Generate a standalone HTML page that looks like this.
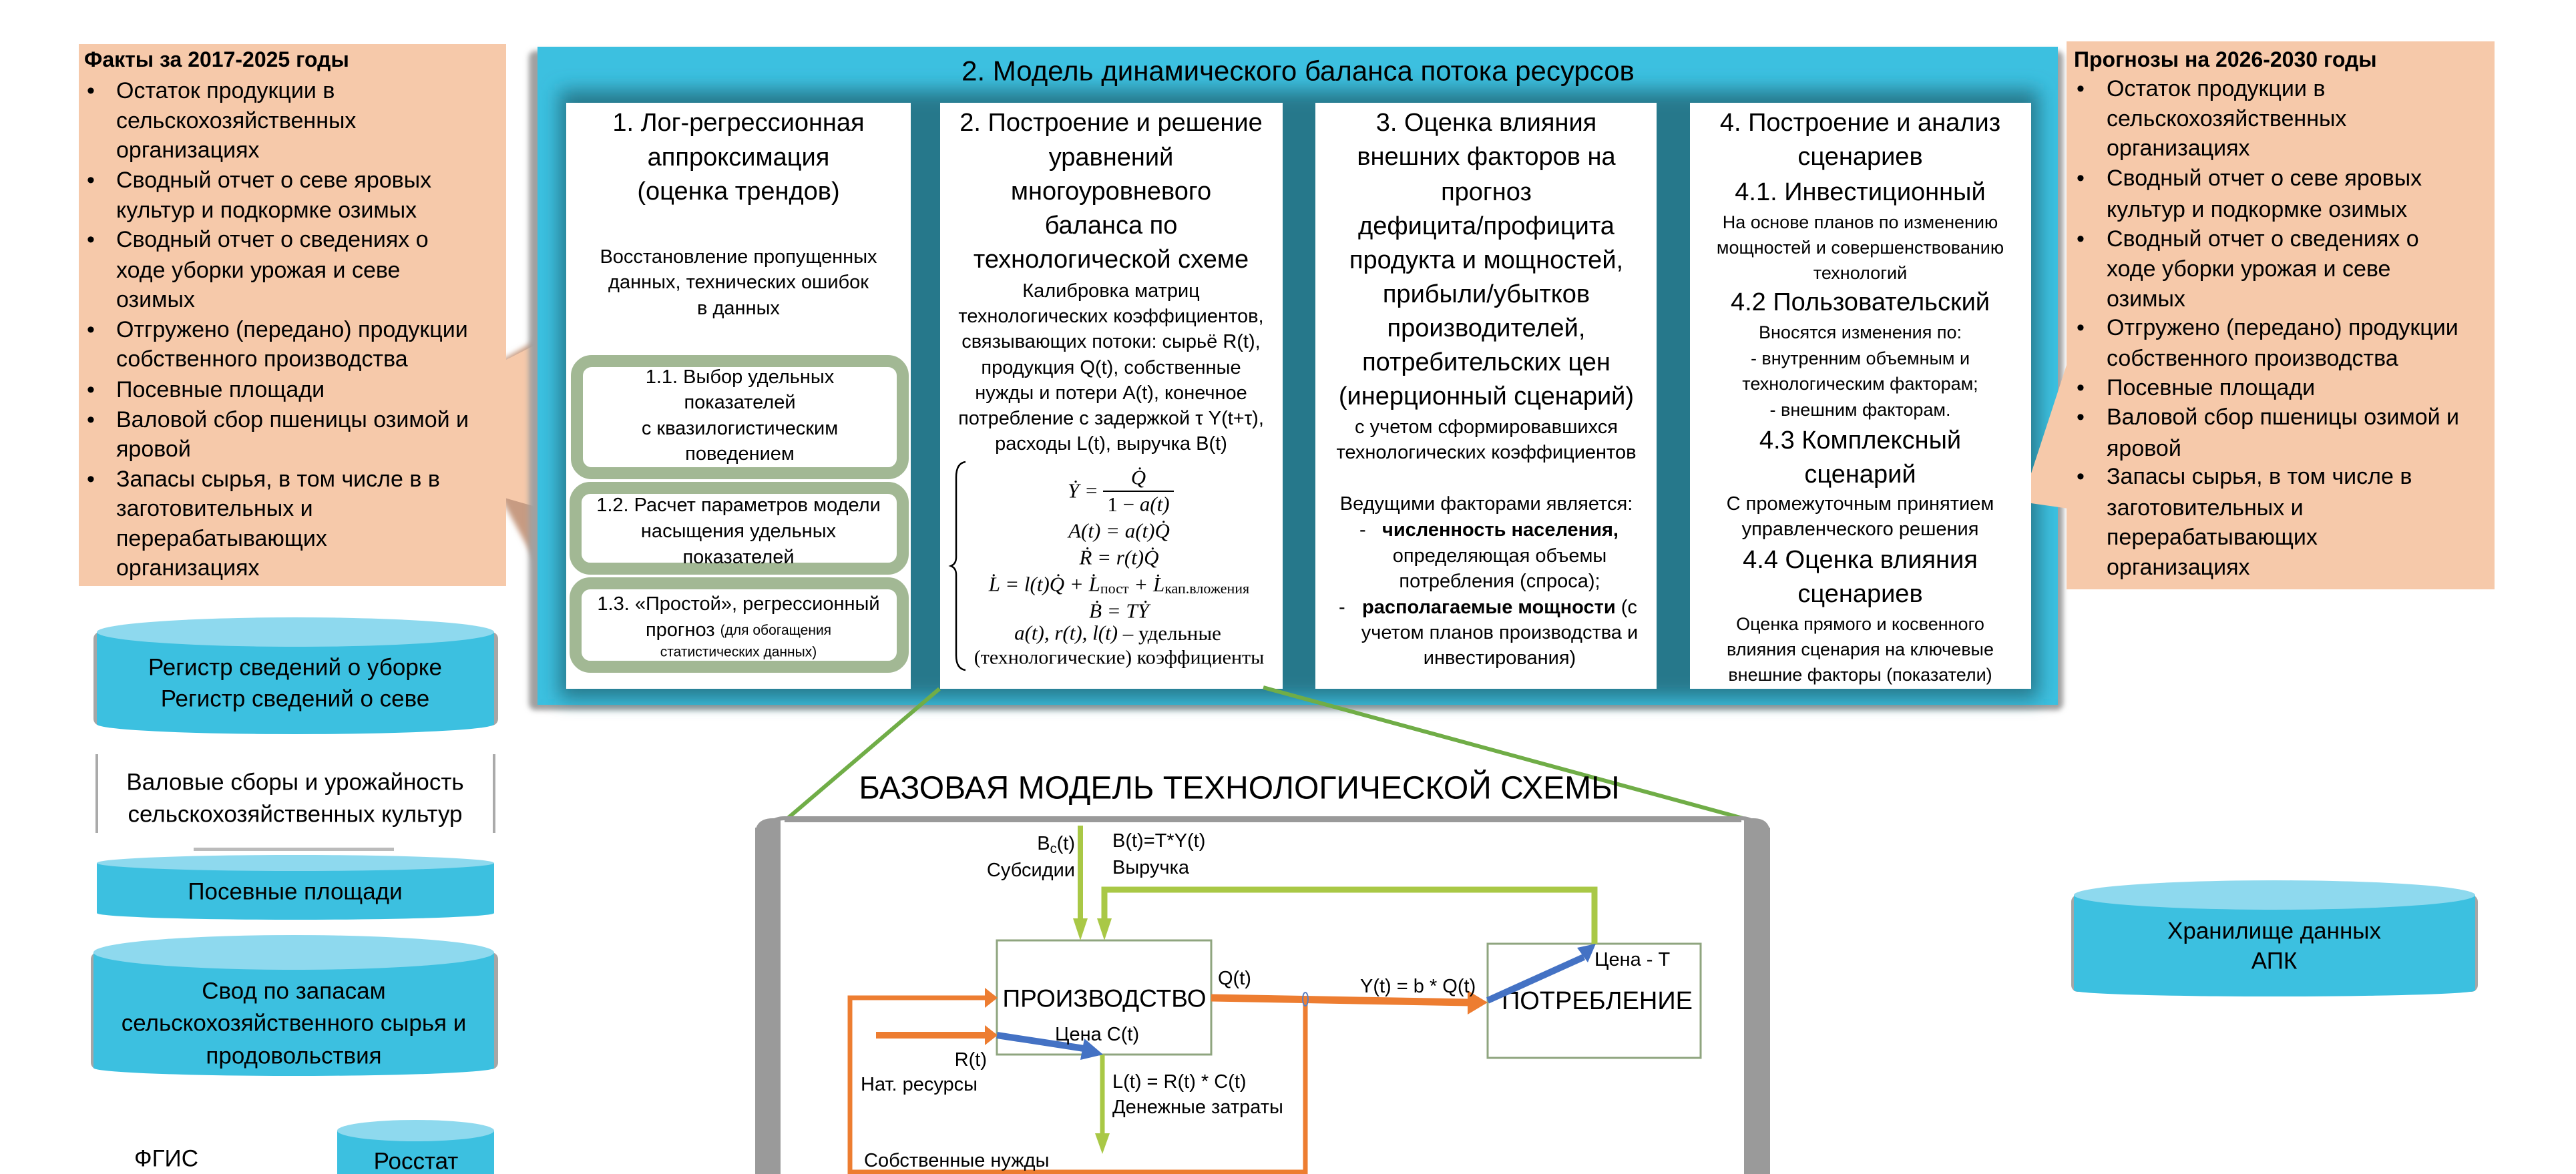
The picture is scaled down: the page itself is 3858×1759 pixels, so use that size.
<!DOCTYPE html>
<html><head><meta charset="utf-8">
<style>
html,body{margin:0;padding:0;background:#fff;}
svg{display:block;}
text{font-family:"Liberation Sans","DejaVu Sans",sans-serif;fill:#000;}
.c{text-anchor:middle;dominant-baseline:central;}
.l{dominant-baseline:central;}
.r{text-anchor:end;dominant-baseline:central;}
.pk{font-size:34px;}
.h{font-size:38px;}
.b{font-size:29px;}
.s{font-size:27px;}
.m{font-family:"Liberation Serif","DejaVu Serif",serif;font-size:31px;font-style:italic;}
.mn{font-family:"Liberation Serif","DejaVu Serif",serif;font-size:30px;}
.lb{font-size:29px;}
</style></head>
<body>
<svg width="3858" height="1759" viewBox="0 0 3858 1759" xmlns="http://www.w3.org/2000/svg">
<defs>
<filter id="bl" x="-5%" y="-5%" width="110%" height="110%"><feGaussianBlur stdDeviation="14"/></filter>
<filter id="bl2"><feGaussianBlur stdDeviation="4"/></filter>
</defs>

<!-- Left peach -->
<polygon points="750,540 812,505 812,860 750,746" fill="#c79b82" filter="url(#bl2)"/>
<polygon points="756,540 805,515 805,760 756,746" fill="#f6c9aa"/>
<rect x="118" y="66" width="640" height="812" fill="#f6c9aa"/>
<text x="126" y="89" class="l pk" style="font-weight:bold;font-size:32px">Факты за 2017-2025 годы</text>
<g class="pk">
<text x="130" y="136" class="l pk">•</text><text x="174" y="136" class="l pk">Остаток продукции  в</text>
<text x="174" y="181" class="l pk">сельскохозяйственных</text>
<text x="174" y="225" class="l pk">организациях</text>
<text x="130" y="270" class="l pk">•</text><text x="174" y="270" class="l pk">Сводный отчет о севе яровых</text>
<text x="174" y="315" class="l pk">культур и подкормке озимых</text>
<text x="130" y="359" class="l pk">•</text><text x="174" y="359" class="l pk">Сводный отчет о сведениях о</text>
<text x="174" y="405" class="l pk">ходе уборки урожая и севе</text>
<text x="174" y="449" class="l pk">озимых</text>
<text x="130" y="494" class="l pk">•</text><text x="174" y="494" class="l pk">Отгружено (передано) продукции</text>
<text x="174" y="538" class="l pk">собственного производства</text>
<text x="130" y="584" class="l pk">•</text><text x="174" y="584" class="l pk">Посевные площади</text>
<text x="130" y="629" class="l pk">•</text><text x="174" y="629" class="l pk">Валовой сбор пшеницы озимой и</text>
<text x="174" y="673" class="l pk">яровой</text>
<text x="130" y="718" class="l pk">•</text><text x="174" y="718" class="l pk">Запасы сырья, в том числе в  в</text>
<text x="174" y="762" class="l pk">заготовительных и</text>
<text x="174" y="807" class="l pk">перерабатывающих</text>
<text x="174" y="851" class="l pk">организациях</text>
</g>

<!-- Main box -->
<rect x="792" y="76" width="2298" height="988" rx="10" fill="#a0a0a0" filter="url(#bl2)"/>
<rect x="805" y="70" width="2277" height="986" fill="#3cc0e0"/>
<rect x="838" y="135" width="2215" height="912" fill="#25788b" filter="url(#bl)"/>
<text x="1944" y="106" class="c" style="font-size:42px">2. Модель динамического баланса потока ресурсов</text>

<!-- Right peach -->
<polygon points="3028,752 3098,538 3098,762" fill="#f6c9aa"/>
<rect x="3095" y="62" width="641" height="821" fill="#f6c9aa"/>
<text x="3106" y="89" class="l pk" style="font-weight:bold;font-size:32px">Прогнозы на 2026-2030 годы</text>
<text x="3110" y="133" class="l pk">•</text><text x="3155" y="133" class="l pk">Остаток продукции  в</text>
<text x="3155" y="178" class="l pk">сельскохозяйственных</text>
<text x="3155" y="222" class="l pk">организациях</text>
<text x="3110" y="267" class="l pk">•</text><text x="3155" y="267" class="l pk">Сводный отчет о севе яровых</text>
<text x="3155" y="314" class="l pk">культур и подкормке озимых</text>
<text x="3110" y="358" class="l pk">•</text><text x="3155" y="358" class="l pk">Сводный отчет о сведениях о</text>
<text x="3155" y="403" class="l pk">ходе уборки урожая и севе</text>
<text x="3155" y="448" class="l pk">озимых</text>
<text x="3110" y="491" class="l pk">•</text><text x="3155" y="491" class="l pk">Отгружено (передано) продукции</text>
<text x="3155" y="537" class="l pk">собственного производства</text>
<text x="3110" y="581" class="l pk">•</text><text x="3155" y="581" class="l pk">Посевные площади</text>
<text x="3110" y="625" class="l pk">•</text><text x="3155" y="625" class="l pk">Валовой сбор пшеницы озимой и</text>
<text x="3155" y="672" class="l pk">яровой</text>
<text x="3110" y="714" class="l pk">•</text><text x="3155" y="714" class="l pk">Запасы сырья, в том числе в</text>
<text x="3155" y="761" class="l pk">заготовительных и</text>
<text x="3155" y="805" class="l pk">перерабатывающих</text>
<text x="3155" y="850" class="l pk">организациях</text>

<!-- Columns -->
<rect x="848" y="154" width="516" height="878" fill="#fff"/>
<rect x="1408" y="154" width="513" height="878" fill="#fff"/>
<rect x="1970" y="154" width="511" height="878" fill="#fff"/>
<rect x="2531" y="154" width="511" height="878" fill="#fff"/>

<!-- Col1 -->
<text x="1106" y="184" class="c h">1. Лог-регрессионная</text>
<text x="1106" y="236" class="c h">аппроксимация</text>
<text x="1106" y="287" class="c h">(оценка трендов)</text>
<text x="1106" y="385" class="c b">Восстановление пропущенных</text>
<text x="1106" y="423" class="c b">данных, технических ошибок</text>
<text x="1106" y="462" class="c b">в данных</text>
<rect x="864" y="541" width="488" height="168" rx="22" fill="#fff" stroke="#a2b894" stroke-width="18"/>
<text x="1108" y="565" class="c b">1.1. Выбор удельных</text>
<text x="1108" y="603" class="c b">показателей</text>
<text x="1108" y="642" class="c b">с квазилогистическим</text>
<text x="1108" y="680" class="c b">поведением</text>
<rect x="862" y="731" width="490" height="121" rx="22" fill="#fff" stroke="#a2b894" stroke-width="18"/>
<text x="1106" y="757" class="c b">1.2. Расчет параметров модели</text>
<text x="1106" y="796" class="c b">насыщения удельных</text>
<text x="1106" y="835" class="c b">показателей</text>
<rect x="862" y="874" width="490" height="125" rx="22" fill="#fff" stroke="#a2b894" stroke-width="18"/>
<text x="1106" y="905" class="c b">1.3. «Простой», регрессионный</text>
<text x="1106" y="944" class="c"><tspan style="font-size:29px">прогноз </tspan><tspan style="font-size:21px">(для обогащения</tspan></text>
<text x="1106" y="977" class="c" style="font-size:21px">статистических данных)</text>

<!-- Col2 -->
<text x="1664" y="184" class="c h">2. Построение и решение</text>
<text x="1664" y="236" class="c h">уравнений</text>
<text x="1664" y="287" class="c h">многоуровневого</text>
<text x="1664" y="338" class="c h">баланса по</text>
<text x="1664" y="389" class="c h">технологической схеме</text>
<text x="1664" y="436" class="c b">Калибровка матриц</text>
<text x="1664" y="474" class="c b">технологических коэффициентов,</text>
<text x="1664" y="512" class="c b">связывающих потоки: сырьё R(t),</text>
<text x="1664" y="551" class="c b">продукция Q(t), собственные</text>
<text x="1664" y="589" class="c b">нужды и потери A(t), конечное</text>
<text x="1664" y="627" class="c b">потребление с задержкой τ Y(t+τ),</text>
<text x="1664" y="665" class="c b">расходы L(t), выручка B(t)</text>
<path d="M1446,692 Q1432,694 1432,715 L1432,835 Q1432,845 1424,848 Q1432,851 1432,861 L1432,982 Q1432,1002 1446,1004" fill="none" stroke="#000" stroke-width="2.5"/>
<text x="1622" y="735" class="c m">Ẏ =</text>
<text x="1705" y="715" class="c m">Q̇</text>
<line x1="1652" y1="736" x2="1758" y2="736" stroke="#000" stroke-width="2"/>
<text x="1705" y="755" class="c m"><tspan font-style="normal">1 − </tspan>a(t)</text>
<text x="1676" y="795" class="c m">A(t) = a(t)Q̇</text>
<text x="1676" y="835" class="c m">Ṙ = r(t)Q̇</text>
<text x="1676" y="875" class="c m">L̇ = l(t)Q̇ + L̇<tspan font-style="normal" font-size="22" dy="6">пост</tspan><tspan dy="-6"> + L̇</tspan><tspan font-style="normal" font-size="22" dy="6">кап.вложения</tspan></text>
<text x="1676" y="915" class="c m">Ḃ = TẎ</text>
<text x="1674" y="948" class="c m">a(t), r(t), l(t) <tspan font-style="normal">– удельные</tspan></text>
<text x="1676" y="985" class="c mn">(технологические) коэффициенты</text>

<!-- Col3 -->
<text x="2226" y="184" class="c h">3. Оценка влияния</text>
<text x="2226" y="235" class="c h">внешних факторов на</text>
<text x="2226" y="288" class="c h">прогноз</text>
<text x="2226" y="339" class="c h">дефицита/профицита</text>
<text x="2226" y="390" class="c h">продукта и мощностей,</text>
<text x="2226" y="441" class="c h">прибыли/убытков</text>
<text x="2226" y="492" class="c h">производителей,</text>
<text x="2226" y="543" class="c h">потребительских цен</text>
<text x="2226" y="594" class="c h">(инерционный сценарий)</text>
<text x="2226" y="640" class="c b">с учетом сформировавшихся</text>
<text x="2226" y="678" class="c b">технологических коэффициентов</text>
<text x="2226" y="755" class="c b">Ведущими факторами является:</text>
<text x="2036" y="794" class="l b">-</text><text x="2070" y="794" class="l b" style="font-weight:bold">численность населения,</text>
<text x="2246" y="833" class="c b">определяющая объемы</text>
<text x="2246" y="871" class="c b">потребления (спроса);</text>
<text x="2005" y="910" class="l b">-</text><text x="2040" y="910" class="l b"><tspan style="font-weight:bold">располагаемые мощности</tspan> (с</text>
<text x="2246" y="948" class="c b">учетом планов производства и</text>
<text x="2246" y="986" class="c b">инвестирования)</text>

<!-- Col4 -->
<text x="2786" y="184" class="c h">4. Построение и анализ</text>
<text x="2786" y="235" class="c h">сценариев</text>
<text x="2786" y="288" class="c h">4.1. Инвестиционный</text>
<text x="2786" y="333" class="c s">На основе планов по изменению</text>
<text x="2786" y="371" class="c s">мощностей и совершенствованию</text>
<text x="2786" y="409" class="c s">технологий</text>
<text x="2786" y="453" class="c h">4.2 Пользовательский</text>
<text x="2786" y="498" class="c s">Вносятся изменения по:</text>
<text x="2786" y="537" class="c s">- внутренним объемным и</text>
<text x="2786" y="575" class="c s">технологическим факторам;</text>
<text x="2786" y="614" class="c s">-  внешним факторам.</text>
<text x="2786" y="660" class="c h">4.3 Комплексный</text>
<text x="2786" y="711" class="c h">сценарий</text>
<text x="2786" y="755" class="c b">С промежуточным принятием</text>
<text x="2786" y="793" class="c b">управленческого решения</text>
<text x="2786" y="839" class="c h">4.4 Оценка влияния</text>
<text x="2786" y="890" class="c h">сценариев</text>
<text x="2786" y="935" class="c s">Оценка прямого и косвенного</text>
<text x="2786" y="973" class="c s">влияния  сценария на ключевые</text>
<text x="2786" y="1011" class="c s">внешние факторы (показатели)</text>

<!-- Left cylinders -->
<g>
<rect x="140" y="947" width="606" height="140" rx="10" fill="#a6a6a6"/>
<path d="M145,947 L145,1085 A297.5,15 0 0 0 740,1085 L740,947 Z" fill="#3cc0e0"/>
<ellipse cx="442.5" cy="947" rx="297.5" ry="22" fill="#8ed9ee"/>
<text x="442" y="1000" class="c" style="font-size:35px">Регистр сведений о уборке</text>
<text x="442" y="1047" class="c" style="font-size:35px">Регистр сведений о севе</text>

<rect x="143" y="1130" width="4" height="118" fill="#aaa"/>
<rect x="738" y="1130" width="4" height="118" fill="#aaa"/>
<text x="442" y="1172" class="c" style="font-size:35px">Валовые сборы и урожайность</text>
<text x="442" y="1220" class="c" style="font-size:35px">сельскохозяйственных культур</text>
<rect x="290" y="1270" width="300" height="5" fill="#bbb"/>

<path d="M145,1293 L145,1368 A297.5,10 0 0 0 740,1368 L740,1293 Z" fill="#3cc0e0"/>
<ellipse cx="442.5" cy="1293" rx="297.5" ry="12" fill="#8ed9ee"/>
<text x="442" y="1336" class="c" style="font-size:35px">Посевные площади</text>

<rect x="136" y="1427" width="610" height="175" rx="10" fill="#a6a6a6"/>
<path d="M140,1427 L140,1600 A300,12 0 0 0 740,1600 L740,1427 Z" fill="#3cc0e0"/>
<ellipse cx="440" cy="1427" rx="300" ry="26" fill="#8ed9ee"/>
<text x="440" y="1485" class="c" style="font-size:35px">Свод по запасам</text>
<text x="440" y="1533" class="c" style="font-size:35px">сельскохозяйственного сырья и</text>
<text x="440" y="1582" class="c" style="font-size:35px">продовольствия</text>

<text x="249" y="1736" class="c" style="font-size:35px">ФГИС</text>
<rect x="505" y="1694" width="235" height="70" fill="#3cc0e0"/>
<ellipse cx="622.5" cy="1694" rx="117.5" ry="16" fill="#8ed9ee"/>
<text x="623" y="1740" class="c" style="font-size:35px">Росстат</text>
</g>

<!-- Right cylinder -->
<rect x="3102" y="1341" width="609" height="145" rx="10" fill="#a6a6a6"/>
<path d="M3106,1341 L3106,1484 A300.5,9 0 0 0 3707,1484 L3707,1341 Z" fill="#3cc0e0"/>
<ellipse cx="3406.5" cy="1341" rx="300.5" ry="22" fill="#8ed9ee"/>
<text x="3406" y="1395" class="c" style="font-size:35px">Хранилище данных</text>
<text x="3406" y="1440" class="c" style="font-size:35px">АПК</text>

<!-- Zoom lines -->
<line x1="1407" y1="1032" x2="1175" y2="1230" stroke="#70ad47" stroke-width="6"/>
<line x1="1892" y1="1030" x2="2610" y2="1226" stroke="#70ad47" stroke-width="6"/>

<!-- Bottom frame -->
<path d="M1150,1759 L1150,1250 Q1150,1226 1175,1226 L2608,1226 Q2632,1226 2632,1250 L2632,1759" fill="#fff" stroke="#9a9a9a" stroke-width="6"/>
<rect x="1131" y="1240" width="38" height="519" fill="#9a9a9a"/>
<rect x="2612" y="1240" width="39" height="519" fill="#9a9a9a"/>
<path d="M1131,1250 Q1131,1226 1158,1226 L1169,1226 L1169,1250 Z" fill="#9a9a9a"/>
<path d="M2612,1226 L2626,1226 Q2651,1226 2651,1250 L2612,1250 Z" fill="#9a9a9a"/>
<line x1="1175" y1="1229" x2="2608" y2="1229" stroke="#9a9a9a" stroke-width="6"/>
<text x="1856" y="1181" class="c" style="font-size:48px">БАЗОВАЯ МОДЕЛЬ ТЕХНОЛОГИЧЕСКОЙ СХЕМЫ</text>

<!-- Boxes -->
<rect x="1493" y="1409" width="321" height="171" fill="#fff" stroke="#8fa57f" stroke-width="3"/>
<rect x="2228" y="1414" width="319" height="171" fill="#fff" stroke="#8fa57f" stroke-width="3"/>
<text x="1654" y="1496" class="c" style="font-size:37px">ПРОИЗВОДСТВО</text>
<text x="2392" y="1500" class="c" style="font-size:38px">ПОТРЕБЛЕНИЕ</text>

<!-- Green arrows -->
<line x1="1618" y1="1237" x2="1618" y2="1380" stroke="#a9c846" stroke-width="8"/>
<polygon points="1607,1376 1629,1376 1618,1409" fill="#a9c846"/>
<polyline points="1654,1380 1654,1333 2388,1333 2388,1414" fill="none" stroke="#a9c846" stroke-width="9"/>
<polygon points="1643,1376 1665,1376 1654,1409" fill="#a9c846"/>
<line x1="1651" y1="1580" x2="1651" y2="1700" stroke="#a9c846" stroke-width="7"/>
<polygon points="1640,1698 1662,1698 1651,1729" fill="#a9c846"/>

<!-- Orange -->
<polyline points="1480,1495 1273,1495 1273,1756 1955,1756 1955,1497" fill="none" stroke="#ed7d31" stroke-width="7"/>
<polygon points="1475,1480 1494,1495 1475,1510" fill="#ed7d31"/>
<line x1="1312" y1="1551" x2="1478" y2="1551" stroke="#ed7d31" stroke-width="10"/>
<polygon points="1475,1536 1494,1551 1475,1566" fill="#ed7d31"/>
<line x1="1814" y1="1495" x2="2200" y2="1502" stroke="#ed7d31" stroke-width="11"/>
<polygon points="2198,1484 2228,1502 2198,1520" fill="#ed7d31"/>
<ellipse cx="1955" cy="1497" rx="4" ry="10" fill="none" stroke="#5b7fc0" stroke-width="2"/>

<!-- Blue -->
<line x1="1493" y1="1551" x2="1630" y2="1572" stroke="#4472c4" stroke-width="10"/>
<polygon points="1624,1556 1652,1580 1618,1588" fill="#4472c4"/>
<line x1="2228" y1="1499" x2="2372" y2="1434" stroke="#4472c4" stroke-width="10"/>
<polygon points="2362,1420 2390,1414 2378,1442" fill="#4472c4"/>

<!-- Labels -->
<text x="1610" y="1264" class="r lb">B<tspan font-size="20" dy="8">c</tspan><tspan dy="-8">(t)</tspan></text>
<text x="1610" y="1304" class="r lb">Субсидии</text>
<text x="1666" y="1260" class="l lb">B(t)=T*Y(t)</text>
<text x="1666" y="1300" class="l lb">Выручка</text>
<text x="1824" y="1466" class="l lb">Q(t)</text>
<text x="2037" y="1478" class="l lb">Y(t) = b * Q(t)</text>
<text x="2388" y="1438" class="l lb">Цена - Т</text>
<text x="1580" y="1550" class="l lb">Цена C(t)</text>
<text x="1478" y="1588" class="r lb">R(t)</text>
<text x="1289" y="1625" class="l lb">Нат. ресурсы</text>
<text x="1666" y="1621" class="l lb">L(t) = R(t) * C(t)</text>
<text x="1666" y="1659" class="l lb">Денежные затраты</text>
<text x="1294" y="1739" class="l lb">Собственные нужды</text>
</svg>
</body></html>
